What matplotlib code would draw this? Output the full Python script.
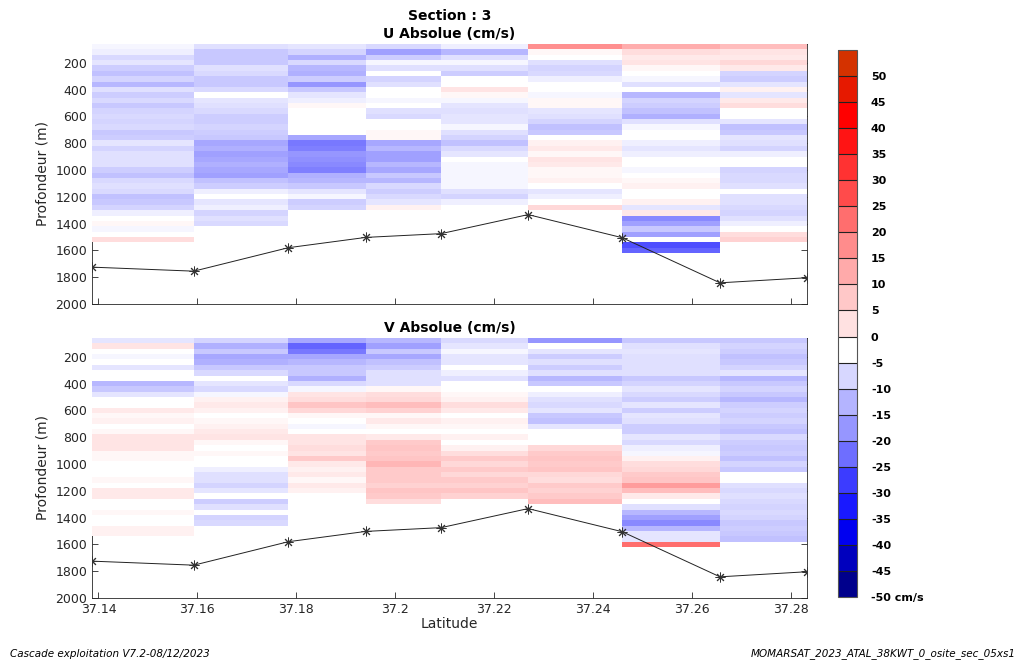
import numpy as np
import matplotlib
matplotlib.use("Agg")
import matplotlib.pyplot as plt
from matplotlib.colors import ListedColormap, BoundaryNorm, LinearSegmentedColormap, Normalize
import matplotlib.colorbar as mcolorbar

plt.rcParams['font.family'] = ['DejaVu Sans']

# ---------------- data ----------------
station_lat = [37.1387, 37.1593, 37.1784, 37.1941, 37.2093, 37.2269, 37.2459, 37.2657, 37.2833]
bottom_depth = [1725, 1755, 1580, 1503, 1475, 1333, 1505, 1842, 1804]
depth_edges = np.arange(60, 1661, 40)

u_col1 = [-3, -4, -7, -5, -9, -11, -8, -12, -6, -9, -7, -10, -8, -7, -8, -7, -10, -9, -5, -8,
          -6, -6, -6, -9, -11, -7, -6, -7, -11, -10, -8, -4, 0, 1, -3, 0, 5]
u_col2 = [-6, -10, -10, -10, -6, -7, -10, -10, -7, -2, -5, -6, -7, -9, -9, -8, -9, -10, -14, -13,
          -15, -14, -13, -14, -15, -11, -9, -4, -1, -5, -4, -8, -6, -7]
u_col3 = [-5, -8, -13, -7, -12, -13, -9, -16, -10, -5, -4, 1, 0, 0, 0, 0, 0, -14, -20, -19,
          -16, -17, -18, -19, -13, -12, -10, -5, -3, -9, -8]
u_col4 = [-7, -15, -9, -3, -6, -1, -8, -6, 0, 0, -3, -1, -6, -7, -1, -1, 1, 1, -14, -12,
          -15, -15, -12, -14, -10, -12, -7, -9, -7, -5, 2]
u_col5 = [-4, -12, -6, -3, -6, -9, 0, 0, 4, 1, -3, -5, -6, -5, -5, -3, -6, -8, -11, -7,
          -5, -1, -3, -3, -3, -3, -3, -6, -8, -4]
u_col6 = [16, 1, -2, -6, -8, -7, -4, 0, 0, -3, 1, 1, -5, -6, -8, -11, -10, 0, 2, 3,
          1, 4, 3, 1, 1, 2, -1, -5, -4, 0, 6]
u_col7 = [12, 5, 3, 4, 1, 0, -3, -6, -1, -12, -8, -9, -11, -13, -6, -3, 0, 0, -4, -5,
          -4, 0, -1, -3, 0, 1, 2, -2, -1, 2, -5, 3, -18, -15, -10, -15, -2, -24, -22]
u_col8 = [10, 4, 3, 6, 3, -8, -9, -5, 2, -5, 3, 5, 0, 0, -5, -11, -10, -5, -6, -8,
          -4, 0, -2, -8, -7, -7, -6, 0, -6, -6, -7, -8, -6, -4, 0, 5, 7]

v_col1 = [-5, 4, 0, -3, -2, -5, -1, 0, -12, -10, -5, 0, 0, 3, 1, 2, 0, 1, 4, 4,
          4, 1, 1, 0, 0, 0, 1, 0, 3, 3, 0, 0, 1, 0, 0, 2, 2]
v_col2 = [-8, -13, -10, -14, -13, -10, -7, -2, -5, -7, -3, 2, 3, 2, 0, 1, 2, 3, 4, 1,
          0, 1, 0, -2, -4, -6, -6, -8, -5, -2, -9, -6, 0, -8, -7]
v_col3 = [-14, -22, -20, -14, -12, -10, -10, -13, -7, -3, 4, 5, 9, 6, 1, 0, -3, 0, 4, 4,
          5, 4, 8, 3, 2, 3, 1, 3, 2]
v_col4 = [-12, -15, -10, -14, -11, -9, -6, -6, -6, 1, 5, 6, 10, 7, 1, 3, 1, 0, 3, 8,
          9, 8, 9, 11, 8, 8, 8, 7, 9, 8, 5]
v_col5 = [-7, -5, -3, -5, -5, 0, -4, -6, 0, -1, 1, 2, 5, 3, -2, 2, 1, 0, 2, 0,
          2, 5, 8, 6, 8, 6, 8, 7, 9, 7]
v_col6 = [-16, -2, -5, -9, -6, -9, -6, -12, -10, -1, -4, -6, -7, -5, -10, -11, -5, -1, 0, 0,
          6, 8, 9, 8, 9, 6, 5, 8, 7, 8, 10]
v_col7 = [-10, -6, -5, -6, -6, -6, -6, -10, -8, -5, -7, -9, -5, -9, -5, -6, -9, -9, -5, -7,
          -4, -3, 2, 5, 6, 8, 9, 14, 10, 3, -2, -6, -12, -15, -18, -12, -5, -5, 20]
v_col8 = [-10, -8, -9, -11, -10, -8, -5, -12, -10, -8, -10, -12, -9, -8, -9, -8, -10, -11, -7, -9,
          -10, -9, -11, -8, -10, -2, -1, -6, -7, -6, -7, -8, -7, -8, -10, -9, -10, -11]

u_columns = [u_col1, u_col2, u_col3, u_col4, u_col5, u_col6, u_col7, u_col8]
v_columns = [v_col1, v_col2, v_col3, v_col4, v_col5, v_col6, v_col7, v_col8]

cbar_bounds = list(range(-50, 60, 5))
cbar_ticks = list(range(-50, 55, 5))
cbar_labels = ['-50 cm/s'] + [str(t) for t in cbar_ticks[1:]]
xtick_vals = [37.14, 37.16, 37.18, 37.2, 37.22, 37.24, 37.26, 37.28]
xtick_labels = ['37.14', '37.16', '37.18', '37.2', '37.22', '37.24', '37.26', '37.28']
ytick_vals = [200, 400, 600, 800, 1000, 1200, 1400, 1600, 1800, 2000]

# ---------------- colours ----------------
cb_rgb = [(0, 0, 140), (0, 0, 190), (0, 0, 240), (25, 25, 255), (60, 60, 255), (110, 110, 255),
          (150, 150, 255), (180, 180, 255), (215, 215, 255), (255, 255, 255), (255, 225, 225),
          (255, 200, 200), (255, 170, 170), (255, 140, 140), (255, 110, 110), (255, 75, 75),
          (255, 50, 50), (255, 20, 20), (255, 0, 0), (230, 25, 0), (212, 50, 0)]
cb_cmap = ListedColormap([tuple(c / 255 for c in rgb) for rgb in cb_rgb])
cb_norm = BoundaryNorm(cbar_bounds, cb_cmap.N)

node_vals = [-50, -40, -30, -25, -20, -15, -10, -5, -2, 0, 2, 5, 10, 15, 20, 30, 40, 55]
node_rgb = [(0, 0, 140), (0, 0, 220), (30, 30, 255), (70, 70, 255), (120, 120, 255), (160, 160, 255),
            (200, 200, 255), (230, 230, 255), (255, 255, 255), (255, 255, 255), (255, 240, 240),
            (255, 222, 222), (255, 190, 190), (255, 150, 150), (255, 110, 110), (255, 50, 50),
            (255, 0, 0), (210, 50, 0)]
vmin, vmax = -50, 55
panel_cmap = LinearSegmentedColormap.from_list(
    'sec', [((v - vmin) / (vmax - vmin), tuple(c / 255 for c in rgb)) for v, rgb in zip(node_vals, node_rgb)])
panel_cmap.set_bad((1, 1, 1, 0))
panel_norm = Normalize(vmin, vmax)


def build_grid(cols):
    nb = len(depth_edges) - 1
    z = np.full((nb, len(cols)), np.nan)
    for j, c in enumerate(cols):
        z[:len(c), j] = c
    return np.ma.masked_invalid(z)


fig = plt.figure(figsize=(10.26, 6.62), dpi=100)
ax_u = fig.add_axes([92 / 1026, 1 - 304 / 662, 715 / 1026, 260 / 662])
ax_v = fig.add_axes([92 / 1026, 1 - 598 / 662, 715 / 1026, 260 / 662])

for ax, cols, title in [(ax_u, u_columns, 'U Absolue (cm/s)'), (ax_v, v_columns, 'V Absolue (cm/s)')]:
    ax.pcolormesh(station_lat, depth_edges, build_grid(cols), cmap=panel_cmap, norm=panel_norm,
                  shading='flat', zorder=3, antialiased=False, linewidth=0)
    ax.plot(station_lat, bottom_depth, color='#222222', lw=0.7, marker=(8, 2, 0), ms=7,
            mec='#333333', mew=0.7, zorder=5)
    ax.set_xlim(station_lat[0], station_lat[-1])
    ax.set_ylim(2000, 60)
    ax.set_yticks(ytick_vals)
    ax.set_xticks(xtick_vals)
    ax.tick_params(direction='in', length=4, width=0.6, labelsize=9, top=True, right=True,
                   colors='#262626')
    for s in ax.spines.values():
        s.set_linewidth(0.6)
        s.set_color('#262626')
    ax.set_ylabel('Profondeur (m)', fontsize=10, color='#262626')
    ax.set_title(title, fontsize=10, fontweight='bold', pad=4)

ax_u.set_xticklabels([])
ax_v.set_xticklabels(xtick_labels)
ax_v.set_xlabel('Latitude', fontsize=10, color='#262626', labelpad=1)
fig.text(449.5 / 1026, 1 - 16 / 662, 'Section : 3', ha='center', va='center',
         fontsize=10, fontweight='bold')

cax = fig.add_axes([838 / 1026, 1 - 597 / 662, 19 / 1026, 547 / 662])
cb = mcolorbar.ColorbarBase(cax, cmap=cb_cmap, norm=cb_norm, boundaries=cbar_bounds,
                            ticks=cbar_ticks, drawedges=True)
cb.dividers.set_color('#222222')
cb.dividers.set_linewidth(0.8)
cb.outline.set_edgecolor('#555555')
cb.outline.set_linewidth(0.8)
cb.ax.minorticks_off()
cb.ax.set_yticklabels(cbar_labels)
cb.ax.tick_params(which='both', length=0, pad=10, labelsize=8)
for t in cb.ax.get_yticklabels():
    t.set_fontweight('bold')

fig.text(10 / 1026, 1 - 654 / 662, 'Cascade exploitation V7.2-08/12/2023', fontsize=7.5,
         style='italic', ha='left', va='center')
fig.text(1016 / 1026, 1 - 654 / 662, 'MOMARSAT_2023_ATAL_38KWT_0_osite_sec_05xs1', fontsize=7.5,
         style='italic', ha='right', va='center')

fig.savefig('out.png', dpi=100)
